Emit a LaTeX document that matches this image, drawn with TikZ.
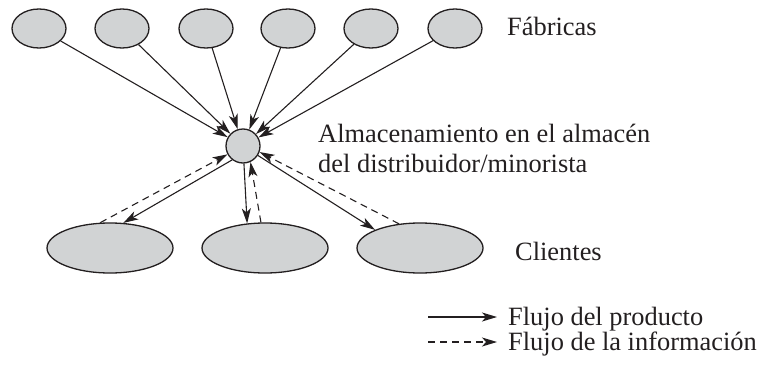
\documentclass[tikz,border=0pt]{standalone}
\usepackage{fontspec}
\setmainfont{Liberation Serif}
\usepackage{xcolor}
\usetikzlibrary{positioning}
\usetikzlibrary{arrows.meta}
\usetikzlibrary{shapes.geometric}

\definecolor{ellgray}{RGB}{209,211,212}
\definecolor{inkgray}{RGB}{35,31,32}

\begin{document}
\begin{tikzpicture}[
    x=1pt, y=-1pt,
    fab/.style={ellipse, draw=inkgray, line width=1.3pt, fill=ellgray, minimum width=54pt, minimum height=39pt, inner sep=0pt},
    cli/.style={ellipse, draw=inkgray, line width=1.3pt, fill=ellgray, minimum width=126pt, minimum height=50pt, inner sep=0pt},
    hubstyle/.style={circle, draw=inkgray, line width=1.3pt, fill=ellgray, minimum size=34pt, inner sep=0pt},
    lbl/.style={text=inkgray, inner sep=0pt, font=\fontsize{26.4}{30}\selectfont},
    prod/.style={draw=inkgray, line width=1.1pt, -{Stealth[length=15pt, width=9pt, inset=4pt]}},
    info/.style={prod, dash pattern=on 7pt off 5pt}
]
    \useasboundingbox (0,0) rectangle (762,364);

    % Factories
    \foreach \i/\x in {1/39, 2/122, 3/206, 4/288, 5/371, 6/455} {
        \node[fab] (fab\i) at (\x,28.5) {};
    }
    \node[lbl, anchor=base west] (fablbl) at (507,35) {Fábricas};

    % Warehouse
    \node[hubstyle] (hub) at (243,146) {};
    \node[lbl, anchor=north west, align=left] (hublbl) at (318,124) {Almacenamiento en el almacén\\del distribuidor/minorista};

    % Customers
    \foreach \i/\x in {1/110, 2/265, 3/420} {
        \node[cli] (cli\i) at (\x,248) {};
    }
    \node[lbl, anchor=base west] (clilbl) at (515,260) {Clientes};

    % Product flow into the warehouse
    \foreach \i in {1,...,6} {
        \draw[prod] (fab\i) -- (hub);
    }

    % Product and information flow with customers
    \draw[prod] (hub.232) -- (cli1.62);
    \draw[info] (cli1.111) -- (hub);
    \draw[prod] (hub) -- (cli2.126);
    \draw[info] (cli2.99) -- (hub.295);
    \draw[prod] (hub) -- (cli3.158);
    \draw[info] (cli3.131) -- (hub.340);

    % Legend
    \coordinate (prodA) at (428,317);
    \coordinate (prodB) at (497,317);
    \coordinate (infoA) at (428,342);
    \coordinate (infoB) at (497,342);
    \draw[prod] (prodA) -- (prodB);
    \draw[info] (infoA) -- (infoB);
    \node[lbl, anchor=base west] (prodlbl) at (508,325) {Flujo del producto};
    \node[lbl, anchor=base west] (infolbl) at (508,350) {Flujo de la información};
\end{tikzpicture}
\end{document}
